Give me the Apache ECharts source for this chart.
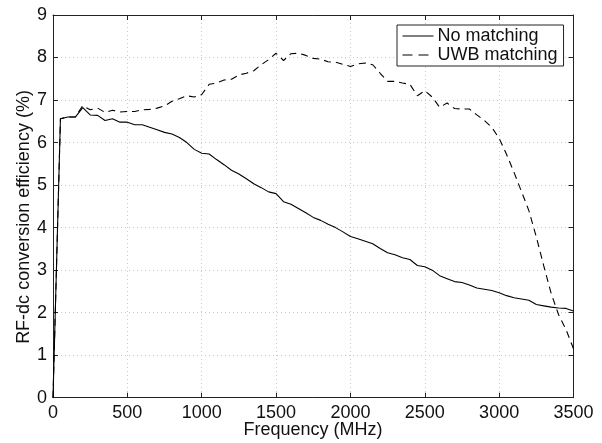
<!DOCTYPE html>
<html>
<head>
<meta charset="utf-8">
<script src="https://cdn.jsdelivr.net/npm/echarts@6/dist/echarts.min.js"></script>
<style>
  html, body { margin: 0; padding: 0; background: #fff; }
  #chart { width: 602px; height: 443px; }
</style>
</head>
<body>
<div id="chart"></div>
<script>
// Frequency sweep, 0–3500 MHz in 50 MHz steps
const frequency = [
  0, 50, 100, 150, 200, 250, 300, 350, 400, 450,
  500, 550, 600, 650, 700, 750, 800, 850, 900, 950,
  1000, 1050, 1100, 1150, 1200, 1250, 1300, 1350, 1400, 1450,
  1500, 1550, 1600, 1650, 1700, 1750, 1800, 1850, 1900, 1950,
  2000, 2050, 2100, 2150, 2200, 2250, 2300, 2350, 2400, 2450,
  2500, 2550, 2600, 2650, 2700, 2750, 2800, 2850, 2900, 2950,
  3000, 3050, 3100, 3150, 3200, 3250, 3300, 3350, 3400, 3450, 3500
];

// RF-dc conversion efficiency (%) without a matching network
const noMatching = [
  0, 6.56, 6.60, 6.60, 6.82, 6.65, 6.64, 6.52, 6.56, 6.48,
  6.48, 6.42, 6.42, 6.36, 6.30, 6.24, 6.20, 6.12, 6.00, 5.84,
  5.75, 5.73, 5.60, 5.48, 5.35, 5.26, 5.15, 5.03, 4.94, 4.84,
  4.80, 4.61, 4.55, 4.45, 4.35, 4.24, 4.17, 4.08, 4.00, 3.90,
  3.79, 3.74, 3.68, 3.62, 3.51, 3.41, 3.36, 3.29, 3.25, 3.11,
  3.08, 3.00, 2.87, 2.80, 2.73, 2.71, 2.65, 2.58, 2.55, 2.52,
  2.47, 2.40, 2.35, 2.32, 2.29, 2.19, 2.16, 2.13, 2.11, 2.10, 2.04
];

// RF-dc conversion efficiency (%) with the UWB matching network
const uwbMatching = [
  0, 6.56, 6.60, 6.60, 6.87, 6.77, 6.81, 6.71, 6.76, 6.72,
  6.73, 6.73, 6.77, 6.78, 6.81, 6.86, 6.97, 7.03, 7.10, 7.07,
  7.13, 7.37, 7.40, 7.47, 7.49, 7.59, 7.63, 7.69, 7.83, 7.95,
  8.10, 7.93, 8.09, 8.10, 8.05, 7.98, 7.96, 7.90, 7.89, 7.84,
  7.79, 7.85, 7.87, 7.83, 7.63, 7.44, 7.44, 7.40, 7.37, 7.10,
  7.22, 7.07, 6.83, 6.93, 6.80, 6.79, 6.79, 6.65, 6.52, 6.36,
  6.10, 5.72, 5.30, 4.85, 4.40, 3.78, 3.10, 2.45, 1.95, 1.60, 1.15
];

const seriesNames = ['No matching', 'UWB matching'];
const xTitle = 'Frequency (MHz)';
const yTitle = 'RF-dc conversion efficiency (%)';

const FONT = '"Liberation Sans", Arial, Helvetica, sans-serif';
const INK = '#111';

const pairs = (ys) => frequency.map((f, i) => [f, ys[i]]);

const boxAxis = {
  axisLine: { show: true, onZero: false, lineStyle: { color: '#222', width: 1 } },
  axisTick: { show: true, inside: true, length: 5, lineStyle: { color: '#222', width: 1 } }
};

const chart = echarts.init(document.getElementById('chart'), null, { renderer: 'canvas' });

chart.setOption({
  animation: false,
  backgroundColor: '#fff',
  grid: { left: 53, right: 28.5, top: 15, bottom: 45.3, containLabel: false },
  xAxis: [
    Object.assign({
      type: 'value', min: 0, max: 3500, interval: 500, position: 'bottom',
      axisLabel: { fontFamily: FONT, fontSize: 18, color: INK, margin: 6, formatter: (v) => String(v) },
      splitLine: { show: true, lineStyle: { color: '#c9c9c9', width: 1, type: [1, 3] } }
    }, boxAxis),
    Object.assign({
      type: 'value', min: 0, max: 3500, interval: 500, position: 'top',
      axisLabel: { show: false }, splitLine: { show: false }
    }, boxAxis)
  ],
  yAxis: [
    Object.assign({
      type: 'value', min: 0, max: 9, interval: 1, position: 'left',
      axisLabel: { fontFamily: FONT, fontSize: 18, color: INK, margin: 6 },
      splitLine: { show: true, lineStyle: { color: '#c9c9c9', width: 1, type: [1, 3] } }
    }, boxAxis),
    Object.assign({
      type: 'value', min: 0, max: 9, interval: 1, position: 'right',
      axisLabel: { show: false }, splitLine: { show: false }
    }, boxAxis)
  ],
  legend: {
    data: [
      { name: seriesNames[0], lineStyle: { width: 1, type: 'solid' } },
      { name: seriesNames[1], lineStyle: { width: 1, type: [10, 6] } }
    ],
    orient: 'vertical',
    left: 397, top: 25,
    padding: [2, 6, 2, 5],
    itemGap: 1,
    itemWidth: 31,
    itemHeight: 16,
    itemStyle: { opacity: 0 },
    lineStyle: { width: 1 },
    backgroundColor: '#fff',
    borderColor: '#222',
    borderWidth: 1,
    borderRadius: 0,
    textStyle: { fontFamily: FONT, fontSize: 18, color: INK, padding: [0, 0, 0, -1] }
  },
  series: [
    {
      name: seriesNames[0], type: 'line', xAxisIndex: 0, yAxisIndex: 0,
      data: pairs(noMatching), symbol: 'none', showSymbol: false,
      lineStyle: { color: '#000', width: 1.1, type: 'solid' },
      itemStyle: { color: '#000' }
    },
    {
      name: seriesNames[1], type: 'line', xAxisIndex: 0, yAxisIndex: 0,
      data: pairs(uwbMatching), symbol: 'none', showSymbol: false,
      lineStyle: { color: '#000', width: 1.1, type: [7, 5] },
      itemStyle: { color: '#000' }
    }
  ],
  graphic: [
    {
      type: 'text', x: 313, y: 430,
      style: { text: xTitle, font: '18px ' + FONT, fill: INK, textAlign: 'center', textVerticalAlign: 'middle' }
    },
    {
      type: 'text', x: 24, y: 217, rotation: Math.PI / 2,
      style: { text: yTitle, font: '18px ' + FONT, fill: INK, textAlign: 'center', textVerticalAlign: 'middle' }
    }
  ]
});
</script>
</body>
</html>
